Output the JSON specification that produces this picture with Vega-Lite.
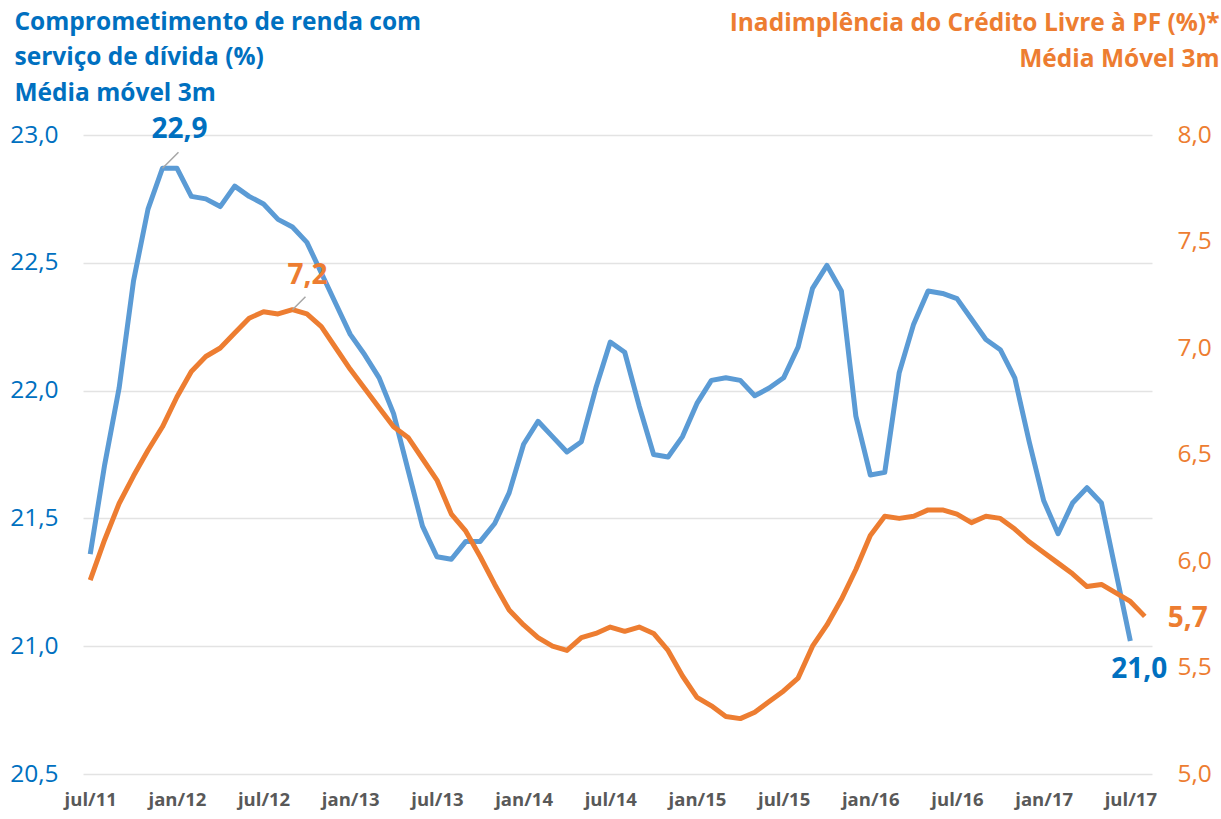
{
  "$schema": "https://vega.github.io/schema/vega-lite/v6.json",
  "width": 1069,
  "height": 639,
  "autosize": {"type": "none"},
  "padding": {"left": 83, "top": 135, "right": 69, "bottom": 45},
  "background": "white",
  "config": {
    "view": {"stroke": null},
    "locale": {"number": {"decimal": ",", "thousands": ".", "grouping": [3], "currency": ["R$", ""]}},
    "axis": {"labelFont": "Open Sans", "titleFont": "Open Sans"}
  },
  "data": {
    "values": [
      {"mes": "jul/11", "renda": 21.36, "inad": 5.91},
      {"mes": "ago/11", "renda": 21.71, "inad": 6.10},
      {"mes": "set/11", "renda": 22.01, "inad": 6.27},
      {"mes": "out/11", "renda": 22.43, "inad": 6.40},
      {"mes": "nov/11", "renda": 22.71, "inad": 6.52},
      {"mes": "dez/11", "renda": 22.87, "inad": 6.63},
      {"mes": "jan/12", "renda": 22.87, "inad": 6.77},
      {"mes": "fev/12", "renda": 22.76, "inad": 6.89},
      {"mes": "mar/12", "renda": 22.75, "inad": 6.96},
      {"mes": "abr/12", "renda": 22.72, "inad": 7.00},
      {"mes": "mai/12", "renda": 22.80, "inad": 7.07},
      {"mes": "jun/12", "renda": 22.76, "inad": 7.14},
      {"mes": "jul/12", "renda": 22.73, "inad": 7.17},
      {"mes": "ago/12", "renda": 22.67, "inad": 7.16},
      {"mes": "set/12", "renda": 22.64, "inad": 7.18},
      {"mes": "out/12", "renda": 22.58, "inad": 7.16},
      {"mes": "nov/12", "renda": 22.46, "inad": 7.10},
      {"mes": "dez/12", "renda": 22.34, "inad": 7.00},
      {"mes": "jan/13", "renda": 22.22, "inad": 6.90},
      {"mes": "fev/13", "renda": 22.14, "inad": 6.81},
      {"mes": "mar/13", "renda": 22.05, "inad": 6.72},
      {"mes": "abr/13", "renda": 21.91, "inad": 6.63},
      {"mes": "mai/13", "renda": 21.69, "inad": 6.58},
      {"mes": "jun/13", "renda": 21.47, "inad": 6.48},
      {"mes": "jul/13", "renda": 21.35, "inad": 6.38},
      {"mes": "ago/13", "renda": 21.34, "inad": 6.22},
      {"mes": "set/13", "renda": 21.41, "inad": 6.14},
      {"mes": "out/13", "renda": 21.41, "inad": 6.02},
      {"mes": "nov/13", "renda": 21.48, "inad": 5.89},
      {"mes": "dez/13", "renda": 21.60, "inad": 5.77},
      {"mes": "jan/14", "renda": 21.79, "inad": 5.70},
      {"mes": "fev/14", "renda": 21.88, "inad": 5.64},
      {"mes": "mar/14", "renda": 21.82, "inad": 5.60},
      {"mes": "abr/14", "renda": 21.76, "inad": 5.58},
      {"mes": "mai/14", "renda": 21.80, "inad": 5.64},
      {"mes": "jun/14", "renda": 22.01, "inad": 5.66},
      {"mes": "jul/14", "renda": 22.19, "inad": 5.69},
      {"mes": "ago/14", "renda": 22.15, "inad": 5.67},
      {"mes": "set/14", "renda": 21.94, "inad": 5.69},
      {"mes": "out/14", "renda": 21.75, "inad": 5.66},
      {"mes": "nov/14", "renda": 21.74, "inad": 5.58},
      {"mes": "dez/14", "renda": 21.82, "inad": 5.46},
      {"mes": "jan/15", "renda": 21.95, "inad": 5.36},
      {"mes": "fev/15", "renda": 22.04, "inad": 5.32},
      {"mes": "mar/15", "renda": 22.05, "inad": 5.27},
      {"mes": "abr/15", "renda": 22.04, "inad": 5.26},
      {"mes": "mai/15", "renda": 21.98, "inad": 5.29},
      {"mes": "jun/15", "renda": 22.01, "inad": 5.34},
      {"mes": "jul/15", "renda": 22.05, "inad": 5.39},
      {"mes": "ago/15", "renda": 22.17, "inad": 5.45},
      {"mes": "set/15", "renda": 22.40, "inad": 5.60},
      {"mes": "out/15", "renda": 22.49, "inad": 5.70},
      {"mes": "nov/15", "renda": 22.39, "inad": 5.82},
      {"mes": "dez/15", "renda": 21.90, "inad": 5.96},
      {"mes": "jan/16", "renda": 21.67, "inad": 6.12},
      {"mes": "fev/16", "renda": 21.68, "inad": 6.21},
      {"mes": "mar/16", "renda": 22.07, "inad": 6.20},
      {"mes": "abr/16", "renda": 22.26, "inad": 6.21},
      {"mes": "mai/16", "renda": 22.39, "inad": 6.24},
      {"mes": "jun/16", "renda": 22.38, "inad": 6.24},
      {"mes": "jul/16", "renda": 22.36, "inad": 6.22},
      {"mes": "ago/16", "renda": 22.28, "inad": 6.18},
      {"mes": "set/16", "renda": 22.20, "inad": 6.21},
      {"mes": "out/16", "renda": 22.16, "inad": 6.20},
      {"mes": "nov/16", "renda": 22.05, "inad": 6.15},
      {"mes": "dez/16", "renda": 21.80, "inad": 6.09},
      {"mes": "jan/17", "renda": 21.57, "inad": 6.04},
      {"mes": "fev/17", "renda": 21.44, "inad": 5.99},
      {"mes": "mar/17", "renda": 21.56, "inad": 5.94},
      {"mes": "abr/17", "renda": 21.62, "inad": 5.88},
      {"mes": "mai/17", "renda": 21.56, "inad": 5.89},
      {"mes": "jun/17", "renda": 21.29, "inad": 5.85},
      {"mes": "jul/17", "renda": 21.02, "inad": 5.81},
      {"mes": "ago/17", "renda": null, "inad": 5.74}
    ]
  },
  "encoding": {
    "x": {
      "field": "mes",
      "type": "ordinal",
      "scale": {
        "type": "point",
        "padding": 0.5,
        "domain": ["jul/11","ago/11","set/11","out/11","nov/11","dez/11","jan/12","fev/12","mar/12","abr/12","mai/12","jun/12","jul/12","ago/12","set/12","out/12","nov/12","dez/12","jan/13","fev/13","mar/13","abr/13","mai/13","jun/13","jul/13","ago/13","set/13","out/13","nov/13","dez/13","jan/14","fev/14","mar/14","abr/14","mai/14","jun/14","jul/14","ago/14","set/14","out/14","nov/14","dez/14","jan/15","fev/15","mar/15","abr/15","mai/15","jun/15","jul/15","ago/15","set/15","out/15","nov/15","dez/15","jan/16","fev/16","mar/16","abr/16","mai/16","jun/16","jul/16","ago/16","set/16","out/16","nov/16","dez/16","jan/17","fev/17","mar/17","abr/17","mai/17","jun/17","jul/17","ago/17"]
      },
      "axis": {
        "title": null,
        "values": ["jul/11","jan/12","jul/12","jan/13","jul/13","jan/14","jul/14","jan/15","jul/15","jan/16","jul/16","jan/17","jul/17"],
        "labelAngle": 0,
        "labelFont": "Open Sans",
        "labelFontWeight": "bold",
        "labelFontSize": 18.5,
        "labelColor": "#595959",
        "labelPadding": 16,
        "ticks": false,
        "domain": false,
        "grid": false
      }
    }
  },
  "layer": [
    {
      "encoding": {
        "y": {
          "field": "renda",
          "type": "quantitative",
          "scale": {"domain": [20.5, 23], "nice": false, "zero": false},
          "axis": {
            "orient": "left",
            "values": [20.5, 21, 21.5, 22, 22.5, 23],
            "format": ".1f",
            "labelFontSize": 24.5,
            "labelColor": "#0070C0",
            "labelPadding": 25,
            "ticks": false,
            "domain": false,
            "grid": true,
            "gridColor": "#E3E3E3",
            "gridWidth": 1.5,
            "title": ["Comprometimento de renda com", "serviço de dívida (%)", "Média móvel 3m"],
            "titleAngle": 0,
            "titleAlign": "left",
            "titleBaseline": "alphabetic",
            "titleX": -69,
            "titleY": -106,
            "titleFontSize": 24.5,
            "titleFontWeight": "bold",
            "titleColor": "#0070C0",
            "titleLineHeight": 35.5
          }
        }
      },
      "layer": [
        {
          "mark": {"type": "line", "color": "#5B9BD5", "strokeWidth": 5, "strokeJoin": "round"}
        },
        {
          "transform": [{"filter": "datum.mes === 'dez/11'"}],
          "mark": {"type": "rule", "color": "#A6A6A6", "strokeWidth": 1.5, "x2Offset": 16, "y2Offset": -16},
          "encoding": {"x2": {"field": "mes"}, "y2": {"field": "renda"}}
        },
        {
          "transform": [{"filter": "datum.mes === 'dez/11'"}],
          "mark": {"type": "text", "font": "Open Sans", "fontSize": 28, "fontWeight": "bold", "color": "#0070C0", "dx": 17, "dy": -38, "align": "center", "baseline": "middle"},
          "encoding": {"text": {"field": "renda", "format": ".1f"}}
        },
        {
          "transform": [{"filter": "datum.mes === 'jul/17'"}],
          "mark": {"type": "text", "font": "Open Sans", "fontSize": 28, "fontWeight": "bold", "color": "#0070C0", "dx": 9, "dy": 29, "align": "center", "baseline": "middle"},
          "encoding": {"text": {"field": "renda", "format": ".1f"}}
        }
      ]
    },
    {
      "encoding": {
        "y": {
          "field": "inad",
          "type": "quantitative",
          "scale": {"domain": [5, 8], "nice": false, "zero": false},
          "axis": {
            "orient": "right",
            "values": [5, 5.5, 6, 6.5, 7, 7.5, 8],
            "format": ".1f",
            "labelFontSize": 24.5,
            "labelColor": "#ED7D31",
            "labelPadding": 25,
            "ticks": false,
            "domain": false,
            "grid": false,
            "title": ["Inadimplência do Crédito Livre à PF (%)*", "Média Móvel 3m"],
            "titleAngle": 0,
            "titleAlign": "right",
            "titleBaseline": "alphabetic",
            "titleX": 67,
            "titleY": -105,
            "titleFontSize": 24.5,
            "titleFontWeight": "bold",
            "titleColor": "#ED7D31",
            "titleLineHeight": 36
          }
        }
      },
      "layer": [
        {
          "mark": {"type": "line", "color": "#ED7D31", "strokeWidth": 5, "strokeJoin": "round"}
        },
        {
          "transform": [{"filter": "datum.mes === 'set/12'"}],
          "mark": {"type": "rule", "color": "#A6A6A6", "strokeWidth": 1.5, "x2Offset": 13, "y2Offset": -13},
          "encoding": {"x2": {"field": "mes"}, "y2": {"field": "inad"}}
        },
        {
          "transform": [{"filter": "datum.mes === 'set/12'"}],
          "mark": {"type": "text", "font": "Open Sans", "fontSize": 28, "fontWeight": "bold", "color": "#ED7D31", "dx": 15, "dy": -34, "align": "center", "baseline": "middle"},
          "encoding": {"text": {"field": "inad", "format": ".1f"}}
        },
        {
          "transform": [{"filter": "datum.mes === 'ago/17'"}],
          "mark": {"type": "text", "font": "Open Sans", "fontSize": 28, "fontWeight": "bold", "color": "#ED7D31", "dx": 43, "dy": 3, "align": "center", "baseline": "middle"},
          "encoding": {"text": {"field": "inad", "format": ".1f"}}
        }
      ]
    }
  ],
  "resolve": {"scale": {"y": "independent"}}
}
